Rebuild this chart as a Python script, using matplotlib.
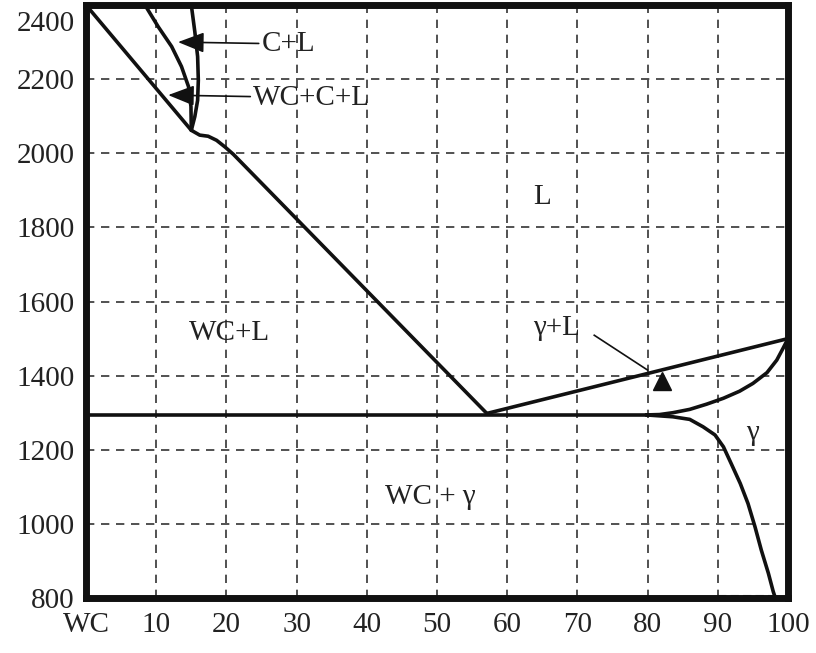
import matplotlib
matplotlib.use("Agg")
import matplotlib.pyplot as plt
from matplotlib.transforms import ScaledTranslation

plt.rcParams['font.family'] = ['Liberation Serif', 'DejaVu Serif']

# WC-Co phase diagram, wt% Co vs temperature (C)
# liquidus on the WC side, with the small kink near 2050
liq_x = [0, 15.0, 16.2, 17.4, 18.6, 19.8, 21.0, 57.1]
liq_y = [2400, 2062, 2049, 2046, 2035, 2017, 1997, 1298]

# WC+C+L boundary
wccl_x = [8.4, 10.3, 12.2, 13.6, 14.6, 14.95, 15.0]
wccl_y = [2400, 2341, 2288, 2234, 2180, 2126, 2062]

# C+L boundary
cl_x = [15.0, 15.5, 15.9, 16.0, 15.9, 15.5, 15.0]
cl_y = [2400, 2328, 2261, 2197, 2143, 2099, 2062]

# liquidus on the Co side
liq2_x = [57.1, 100]
liq2_y = [1298, 1500]

# eutectic line
eut_x = [0, 80]
eut_y = [1294, 1294]

# solidus of gamma
sol_x = [79.8, 81.7, 83.6, 86.0, 88.4, 90.8, 93.1, 95.0, 97.0, 98.4, 99.3, 100]
sol_y = [1294, 1295, 1300, 1309, 1323, 1339, 1358, 1379, 1408, 1442, 1474, 1500]

# solubility of WC in gamma
solv_x = [79.8, 83.6, 86.0, 87.9, 89.6, 90.8, 91.9, 93.2, 94.3, 95.3, 96.2, 97.2, 97.9, 98.2]
solv_y = [1294, 1289, 1282, 1262, 1240, 1208, 1163, 1109, 1055, 992, 929, 867, 817, 800]

xticks = [0, 10, 20, 30, 40, 50, 60, 70, 80, 90, 100]
xticklabels = ['WC', '10', '20', '30', '40', '50', '60', '70', '80', '90', '100']
yticks = [800, 1000, 1200, 1400, 1600, 1800, 2000, 2200, 2400]

fig = plt.figure(figsize=(8.16, 6.53), dpi=100)
ax = fig.add_axes([0.1054, 0.0842, 0.8603, 0.9081])

ink = '#111111'
lw = 2.6
for xs, ys in [(liq_x, liq_y), (wccl_x, wccl_y), (cl_x, cl_y), (liq2_x, liq2_y),
               (eut_x, eut_y), (sol_x, sol_y), (solv_x, solv_y)]:
    ax.plot(xs, ys, color=ink, lw=lw, solid_capstyle='round', solid_joinstyle='round', zorder=3)

ax.set_xlim(0, 100)
ax.set_ylim(800, 2400)
ax.set_xticks(xticks)
ax.set_xticklabels(xticklabels)
ax.set_yticks(yticks)
ax.tick_params(length=0, labelsize=21, colors='#222222')
ax.tick_params(axis='x', pad=10)
ax.tick_params(axis='y', pad=8)
top_lab = ax.get_yticklabels()[-1]
top_lab.set_va('top')
top_lab.set_transform(top_lab.get_transform() + ScaledTranslation(0, -4 / 72, fig.dpi_scale_trans))

ax.grid(True, color='#333333', lw=1.2, linestyle=(0, (5, 4)))
for s in ax.spines.values():
    s.set_linewidth(5)
    s.set_color(ink)

# short dashed stretch along the bottom on the Co side
ax.plot([90, 98], [806, 806], color='#333333', lw=1.5, linestyle=(0, (4, 2)), zorder=2)

txt = dict(fontsize=21, color='#222222')
ax.text(65, 1882, 'L', ha='center', va='center', **txt)
ax.text(20.4, 1515, 'WC+L', ha='center', va='center', **txt)
ax.text(49.1, 1072, 'WC + γ', ha='center', va='center', **txt)
ax.text(94.9, 1245, 'γ', ha='center', va='center', **txt)
ax.text(67.0, 1528, 'γ+L', ha='center', va='center', **txt)

head = dict(arrowstyle='-|>,head_length=0.9,head_width=0.35', color=ink, lw=1.2, mutation_scale=18,
            shrinkA=0, shrinkB=0)
ax.annotate('C+L', xy=(13.1, 2300), xytext=(25.0, 2295), ha='left', va='center',
            arrowprops=head, **txt)
ax.annotate('WC+C+L', xy=(11.7, 2157), xytext=(23.8, 2150), ha='left', va='center',
            arrowprops=head, **txt)

# gamma+L pointer
ax.plot([72.4, 80.0], [1509, 1415], color=ink, lw=1.2, zorder=3)
ax.plot([82.1], [1385], marker='^', markersize=13, color=ink, zorder=4)

fig.savefig('out.png', dpi=100)
